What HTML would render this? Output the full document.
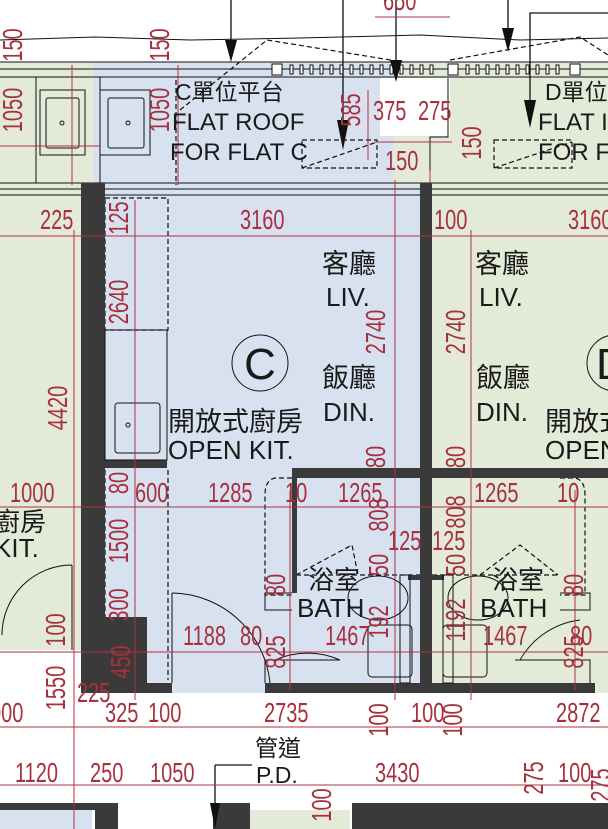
<!DOCTYPE html>
<html><head><meta charset="utf-8"><style>
html,body{margin:0;padding:0;background:#fff;}
svg{display:block;}
.r{fill:#a8303e;font-family:"Liberation Sans",sans-serif;font-size:20px;}
.k{fill:#1a1a1a;font-family:"Liberation Sans","Noto Sans CJK TC",sans-serif;}
</style></head><body>
<svg width="608" height="829" viewBox="0 0 608 829" xmlns="http://www.w3.org/2000/svg">
<rect x="0" y="62" width="93" height="588" fill="#e3ebd8"/>
<rect x="93" y="62" width="300" height="125" fill="#d8e1f0"/>
<rect x="393" y="62" width="215" height="125" fill="#e3ebd8"/>
<rect x="380" y="78" width="70" height="58" fill="#fff"/>
<rect x="100" y="185" width="325" height="508" fill="#d8e1f0"/>
<rect x="425" y="185" width="183" height="508" fill="#e3ebd8"/>
<rect x="0" y="650" width="115" height="45" fill="#fff"/>
<rect x="0" y="693" width="608" height="110" fill="#fff"/>
<rect x="0" y="810" width="92" height="19" fill="#d8e1f0"/>
<rect x="250" y="810" width="100" height="19" fill="#e3ebd8"/>
<rect x="0" y="803" width="95" height="7" fill="#3a3a3a"/>
<rect x="95" y="803" width="23" height="26" fill="#3a3a3a"/>
<rect x="213" y="803" width="37" height="26" fill="#3a3a3a"/>
<rect x="352" y="803" width="256" height="26" fill="#3a3a3a"/>
<g stroke="#111" stroke-width="1" fill="none">
<polyline points="0,40 95,37 190,40 300,38 420,35 520,40 608,38"/>
<line x1="0" y1="62" x2="608" y2="62"/>
<line x1="0" y1="69" x2="608" y2="69"/>
<line x1="0" y1="77" x2="608" y2="77"/>
<line x1="0" y1="183" x2="608" y2="183"/>
<line x1="0" y1="195" x2="608" y2="195"/>
<line x1="0" y1="189" x2="608" y2="189"/>
<rect x="40" y="90" width="45" height="65"/><rect x="46" y="98" width="33" height="50" rx="2"/>
<rect x="100" y="90" width="50" height="65"/><rect x="108" y="98" width="36" height="50" rx="2"/>
<circle cx="62" cy="123" r="2"/><circle cx="128" cy="123" r="2"/>
<line x1="100" y1="77" x2="100" y2="183"/><line x1="36" y1="77" x2="36" y2="183"/>
<polyline points="448,78 448,137 430,137 430,183"/>
</g>
<g stroke="#111" stroke-width="1.2" fill="none" stroke-dasharray="5,3">
<polyline points="180,110 267,40 403,62"/>
<polyline points="450,60 580,37 608,55"/>
<rect x="302" y="140" width="75" height="28"/><line x1="302" y1="168" x2="377" y2="142"/>
<rect x="494" y="140" width="78" height="28"/><line x1="494" y1="168" x2="572" y2="142"/>
<line x1="176" y1="80" x2="176" y2="185"/>
<rect x="105" y="198" width="63" height="132"/>
<line x1="168" y1="470" x2="168" y2="680"/>
<line x1="105" y1="470" x2="105" y2="617"/>
<path d="M292,478 L275,478 Q265,480 265,495 L265,595 L292,595"/>
<path d="M560,478 L575,478 Q585,480 585,495 L585,595 L560,595"/>
<polyline points="296,575 352,545 358,575"/>
<polyline points="480,575 520,545 558,575"/>
<line x1="296" y1="575" x2="560" y2="575"/>
</g>
<g fill="#fff" stroke="#111" stroke-width="1">
<rect x="272" y="64" width="10" height="11"/><rect x="290" y="65" width="3" height="9"/>
<rect x="300" y="65" width="3" height="9"/><rect x="310" y="65" width="3" height="9"/><rect x="320" y="65" width="3" height="9"/><rect x="330" y="65" width="3" height="9"/><rect x="340" y="65" width="3" height="9"/><rect x="350" y="65" width="3" height="9"/><rect x="360" y="65" width="3" height="9"/><rect x="370" y="65" width="3" height="9"/><rect x="380" y="65" width="3" height="9"/><rect x="390" y="65" width="3" height="9"/><rect x="400" y="65" width="3" height="9"/><rect x="410" y="65" width="3" height="9"/><rect x="420" y="65" width="3" height="9"/><rect x="430" y="65" width="3" height="9"/>
<rect x="448" y="64" width="10" height="11"/>
<rect x="466" y="65" width="3" height="9"/><rect x="476" y="65" width="3" height="9"/><rect x="486" y="65" width="3" height="9"/><rect x="496" y="65" width="3" height="9"/><rect x="506" y="65" width="3" height="9"/><rect x="516" y="65" width="3" height="9"/><rect x="526" y="65" width="3" height="9"/><rect x="536" y="65" width="3" height="9"/><rect x="546" y="65" width="3" height="9"/><rect x="556" y="65" width="3" height="9"/>
<rect x="570" y="64" width="10" height="11"/>
</g>
<g stroke="#111" stroke-width="1.3">
<line x1="231" y1="0" x2="231" y2="45"/><line x1="343" y1="0" x2="343" y2="140"/>
<line x1="396" y1="0" x2="396" y2="62"/><line x1="508" y1="0" x2="508" y2="40"/>
<polyline fill="none" points="608,13 530,13 530,105"/>
<line x1="215" y1="803" x2="215" y2="765"/><line x1="215" y1="765" x2="252" y2="765"/>
</g>
<g fill="#111">
<polygon points="225,40 237,40 231,62"/><polygon points="337,120 349,120 343,150"/>
<polygon points="390,60 402,60 396,82"/><polygon points="502,28 514,28 508,52"/>
<polygon points="524,100 536,100 530,128"/><polygon points="210,803 220,803 215,829"/>
</g>
<g fill="#3a3a3a">
<rect x="81" y="183" width="24" height="510"/>
<rect x="105" y="617" width="42" height="76"/>
<rect x="137" y="683" width="35" height="10"/>
<rect x="420" y="183" width="12" height="510"/>
<rect x="292" y="468" width="316" height="10"/>
<rect x="105" y="460" width="62" height="8"/>
<rect x="292" y="468" width="5" height="125"/>
<rect x="265" y="683" width="330" height="10"/>
<rect x="408" y="575" width="12" height="5"/><rect x="432" y="575" width="12" height="5"/>
</g>
<g stroke="#111" stroke-width="1" fill="none">
<rect x="105" y="330" width="62" height="130"/>
<rect x="115" y="403" width="45" height="50" rx="3"/><circle cx="128" cy="425" r="2"/>
<path d="M172,593 L172,683 M172,593 A100,100 0 0 1 270,683"/>
<path d="M72,565 L72,650 M72,565 A70,70 0 0 0 2,635"/>
<path d="M292,593 L265,593 L265,610 L292,610"/><path d="M265,683 L265,660 L340,660"/><path d="M275,660 A80,80 0 0 1 340,660"/>
<path d="M560,593 L590,593 L590,610 L560,610"/><path d="M590,683 L590,660 L515,660"/><path d="M520,660 A80,80 0 0 1 580,620"/>
<rect x="368" y="625" width="44" height="52" rx="4"/><rect x="400" y="575" width="10" height="108"/>
<ellipse cx="378" cy="598" rx="30" ry="22"/>
<rect x="443" y="625" width="44" height="52" rx="4"/><rect x="443" y="575" width="10" height="108"/>
<ellipse cx="478" cy="598" rx="30" ry="22"/>
<circle cx="260" cy="363" r="28"/>
<circle cx="615" cy="363" r="28"/>
</g>
<g stroke="#b03040" stroke-width="1">
<line x1="0" y1="236" x2="608" y2="236"/><line x1="0" y1="507" x2="608" y2="507"/>
<line x1="0" y1="652" x2="608" y2="652"/><line x1="0" y1="727" x2="608" y2="727"/>
<line x1="0" y1="785" x2="608" y2="785"/><line x1="0" y1="146" x2="100" y2="146"/>
<line x1="375" y1="17" x2="450" y2="17"/><line x1="375" y1="142" x2="452" y2="142"/>
<line x1="72" y1="65" x2="72" y2="185"/><line x1="178" y1="65" x2="178" y2="185"/>
<line x1="74" y1="230" x2="74" y2="829"/><line x1="135" y1="200" x2="135" y2="700"/>
<line x1="395" y1="180" x2="395" y2="700"/><line x1="471" y1="230" x2="471" y2="700"/>
<line x1="290" y1="490" x2="290" y2="690"/><line x1="575" y1="490" x2="575" y2="690"/>
<line x1="368" y1="90" x2="368" y2="160"/><line x1="430" y1="170" x2="430" y2="183"/>
</g>
<g class="k">
<text x="175" y="100" font-size="23">C單位平台</text>
<text x="172" y="130" font-size="24">FLAT ROOF</text>
<text x="170" y="160" font-size="24">FOR FLAT C</text>
<text x="545" y="100" font-size="23">D單位平</text>
<text x="538" y="130" font-size="24">FLAT I</text>
<text x="538" y="160" font-size="24">FOR F</text>
<text x="322" y="273" font-size="27">客廳</text><text x="326" y="306" font-size="26">LIV.</text>
<text x="322" y="387" font-size="27">飯廳</text><text x="323" y="421" font-size="26">DIN.</text>
<text x="475" y="273" font-size="27">客廳</text><text x="479" y="306" font-size="26">LIV.</text>
<text x="476" y="387" font-size="27">飯廳</text><text x="476" y="421" font-size="26">DIN.</text>
<text x="168" y="431" font-size="27">開放式廚房</text><text x="168" y="459" font-size="26">OPEN KIT.</text>
<text x="545" y="431" font-size="27">開放式</text><text x="545" y="459" font-size="26">OPEN</text>
<text x="308" y="589" font-size="26">浴室</text><text x="297" y="617" font-size="26">BATH</text>
<text x="492" y="589" font-size="26">浴室</text><text x="480" y="617" font-size="26">BATH</text>
<text x="-6" y="531" font-size="26">廚房</text><text x="-6" y="557" font-size="26">KIT.</text>
<text x="255" y="756" font-size="23">管道</text><text x="256" y="783" font-size="23">P.D.</text>
<text x="260" y="379" font-size="44" text-anchor="middle">C</text>
<text x="596" y="379" font-size="44">D</text>
</g>
<g class="r">
<text transform="translate(383,10) scale(1,1.4)">650</text>
<text transform="translate(40,229) scale(1,1.4)">225</text><text transform="translate(240,229) scale(1,1.4)">3160</text><text transform="translate(434,229) scale(1,1.4)">100</text><text transform="translate(568,229) scale(1,1.4)">3160</text>
<text transform="translate(373,120) scale(1,1.4)">375</text><text transform="translate(418,120) scale(1,1.4)">275</text><text transform="translate(385,170) scale(1,1.4)">150</text>
<text transform="translate(10,502) scale(1,1.4)">1000</text><text transform="translate(135,502) scale(1,1.4)">600</text><text transform="translate(208,502) scale(1,1.4)">1285</text><text transform="translate(285,502) scale(1,1.4)">10</text>
<text transform="translate(338,502) scale(1,1.4)">1265</text><text transform="translate(474,502) scale(1,1.4)">1265</text><text transform="translate(557,502) scale(1,1.4)">10</text>
<text transform="translate(388,550) scale(1,1.4)">125</text><text transform="translate(432,550) scale(1,1.4)">125</text>
<text transform="translate(183,645) scale(1,1.4)">1188</text><text transform="translate(240,645) scale(1,1.4)">80</text><text transform="translate(325,645) scale(1,1.4)">1467</text><text transform="translate(483,645) scale(1,1.4)">1467</text><text transform="translate(570,645) scale(1,1.4)">80</text>
<text transform="translate(77,702) scale(1,1.4)">225</text><text transform="translate(-10,722) scale(1,1.4)">000</text><text transform="translate(105,722) scale(1,1.4)">325</text><text transform="translate(148,722) scale(1,1.4)">100</text>
<text transform="translate(264,722) scale(1,1.4)">2735</text><text transform="translate(411,722) scale(1,1.4)">100</text><text transform="translate(556,722) scale(1,1.4)">2872</text>
<text transform="translate(15,782) scale(1,1.4)">1120</text><text transform="translate(90,782) scale(1,1.4)">250</text><text transform="translate(150,782) scale(1,1.4)">1050</text><text transform="translate(375,782) scale(1,1.4)">3430</text><text transform="translate(558,782) scale(1,1.4)">100</text>
</g>
<g class="r" text-anchor="middle">
<text transform="translate(22,45) rotate(-90) scale(1,1.4)">150</text>
<text transform="translate(22,110) rotate(-90) scale(1,1.4)">1050</text>
<text transform="translate(169,45) rotate(-90) scale(1,1.4)">150</text>
<text transform="translate(169,110) rotate(-90) scale(1,1.4)">1050</text>
<text transform="translate(360,110) rotate(-90) scale(1,1.4)">585</text>
<text transform="translate(481,143) rotate(-90) scale(1,1.4)">150</text>
<text transform="translate(128,218) rotate(-90) scale(1,1.4)">125</text>
<text transform="translate(128,302) rotate(-90) scale(1,1.4)">2640</text>
<text transform="translate(67,408) rotate(-90) scale(1,1.4)">4420</text>
<text transform="translate(385,332) rotate(-90) scale(1,1.4)">2740</text>
<text transform="translate(465,332) rotate(-90) scale(1,1.4)">2740</text>
<text transform="translate(385,457) rotate(-90) scale(1,1.4)">80</text>
<text transform="translate(465,457) rotate(-90) scale(1,1.4)">80</text>
<text transform="translate(128,483) rotate(-90) scale(1,1.4)">80</text>
<text transform="translate(128,541) rotate(-90) scale(1,1.4)">1500</text>
<text transform="translate(128,605) rotate(-90) scale(1,1.4)">300</text>
<text transform="translate(65,630) rotate(-90) scale(1,1.4)">100</text>
<text transform="translate(65,688) rotate(-90) scale(1,1.4)">1550</text>
<text transform="translate(130,662) rotate(-90) scale(1,1.4)">450</text>
<text transform="translate(388,515) rotate(-90) scale(1,1.4)">808</text>
<text transform="translate(388,565) rotate(-90) scale(1,1.4)">50</text>
<text transform="translate(465,512) rotate(-90) scale(1,1.4)">808</text>
<text transform="translate(465,565) rotate(-90) scale(1,1.4)">50</text>
<text transform="translate(285,585) rotate(-90) scale(1,1.4)">80</text>
<text transform="translate(285,652) rotate(-90) scale(1,1.4)">825</text>
<text transform="translate(388,622) rotate(-90) scale(1,1.4)">192</text>
<text transform="translate(465,620) rotate(-90) scale(1,1.4)">1192</text>
<text transform="translate(583,585) rotate(-90) scale(1,1.4)">80</text>
<text transform="translate(583,652) rotate(-90) scale(1,1.4)">825</text>
<text transform="translate(388,720) rotate(-90) scale(1,1.4)">100</text>
<text transform="translate(462,720) rotate(-90) scale(1,1.4)">100</text>
<text transform="translate(331,805) rotate(-90) scale(1,1.4)">100</text>
<text transform="translate(543,778) rotate(-90) scale(1,1.4)">275</text>
<text transform="translate(610,785) rotate(-90) scale(1,1.4)">275</text>
</g>
</svg>
</body></html>
